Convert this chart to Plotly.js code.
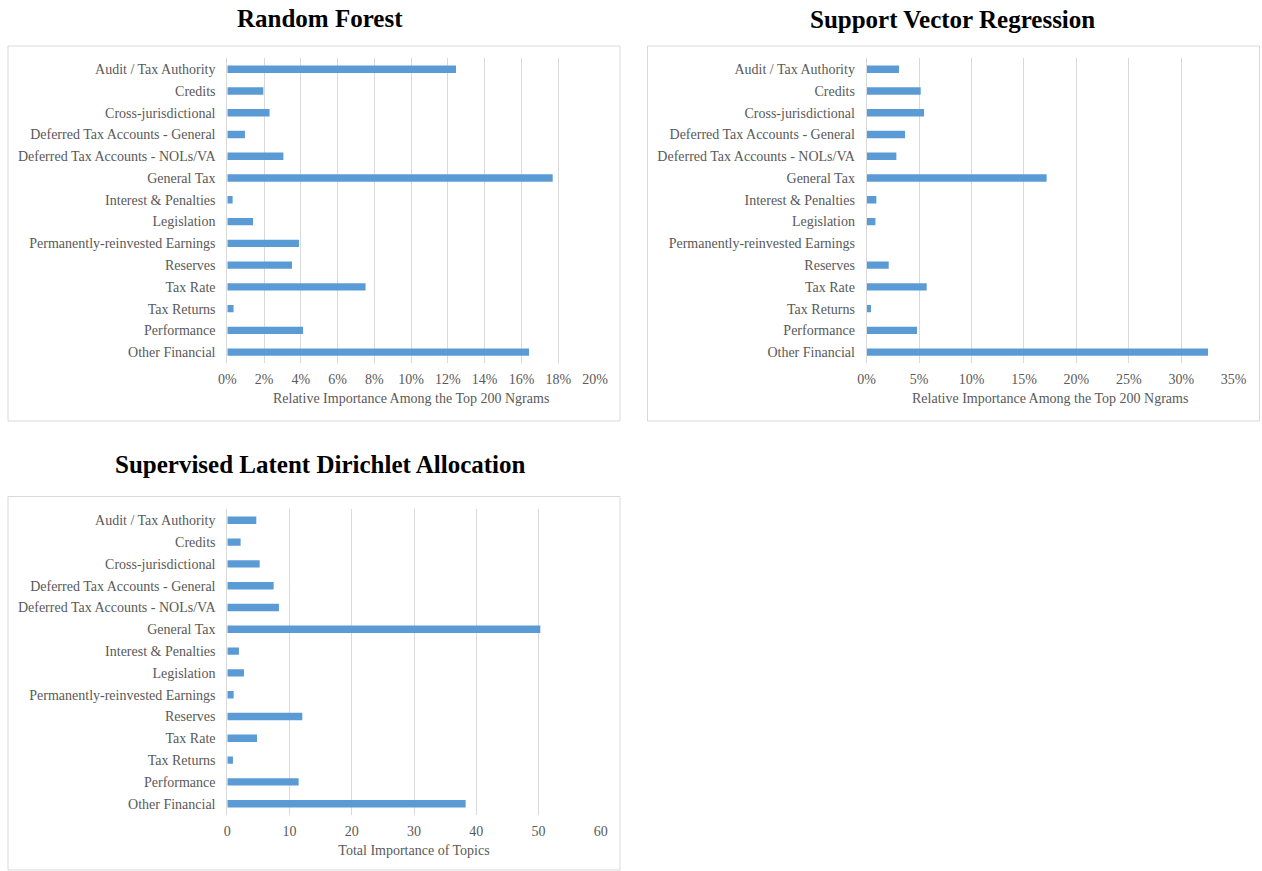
<!DOCTYPE html>
<html>
<head>
<meta charset="utf-8">
<script src="https://cdn.plot.ly/plotly-3.0.1.min.js"></script>
<style>html,body{margin:0;padding:0;background:#fff;}#chart{width:1262px;height:871px;}</style>
</head>
<body>
<div id="chart"></div>
<script>
const categories = ["Audit / Tax Authority","Credits","Cross-jurisdictional","Deferred Tax Accounts - General","Deferred Tax Accounts - NOLs/VA","General Tax","Interest & Penalties","Legislation","Permanently-reinvested Earnings","Reserves","Tax Rate","Tax Returns","Performance","Other Financial"];
const rfValues = [0.1244,0.0196,0.0230,0.0096,0.0305,0.1770,0.0029,0.0140,0.0390,0.0352,0.0752,0.0034,0.0412,0.1641];
const svrValues = [0.0308,0.0515,0.0547,0.0366,0.0283,0.1716,0.0092,0.0083,0.0,0.0210,0.0572,0.0041,0.0480,0.3255];
const sldaValues = [4.66,2.14,5.20,7.45,8.30,50.3,1.87,2.68,1.02,12.05,4.77,0.91,11.46,38.3];
const titles = ["Random Forest","Support Vector Regression","Supervised Latent Dirichlet Allocation"];
const xTitles = ["Relative Importance Among the Top 200 Ngrams","Relative Importance Among the Top 200 Ngrams","Total Importance of Topics"];

const W = 1262, H = 871;
const px = v => v / W;
const py = v => 1 - v / H;
const FONT = "Liberation Serif, Times New Roman, serif";
const BAR = "#5b9bd5";
const GRID = "#d9d9d9";
const TXT = "#595959";

function bar(vals, xa, ya) {
  return {type:"bar", orientation:"h", x: vals, y: categories, xaxis: xa, yaxis: ya,
    marker:{color:BAR}, hoverinfo:"x+y", showlegend:false};
}
const data = [bar(rfValues,"x","y"), bar(svrValues,"x2","y2"), bar(sldaValues,"x3","y3")];

function xax(domain, range, dtick, fmt, title, anchor) {
  return {domain: domain, range: range, dtick: dtick, tick0: 0, tickformat: fmt, anchor: anchor,
    showgrid:true, gridcolor:GRID, gridwidth:1, zeroline:false, showline:false, ticks:"",
    tickfont:{family:FONT,size:14,color:TXT}, ticklabelstandoff:6, fixedrange:true,
    title:{text:title, font:{family:FONT,size:14,color:TXT}, standoff:7}};
}
function yax(domain, anchor) {
  return {domain: domain, type:"category", autorange:"reversed", anchor: anchor,
    showgrid:false, zeroline:false, showline:true, linecolor:GRID, linewidth:1, ticks:"",
    tickfont:{family:FONT,size:14,color:TXT}, ticklabelstandoff:8, fixedrange:true};
}

const layout = {
  width: W, height: H,
  margin:{l:0,r:0,t:0,b:0},
  paper_bgcolor:"#fff", plot_bgcolor:"rgba(0,0,0,0)",
  bargap: 0.66,
  font:{family:FONT},
  xaxis: xax([px(227.3), px(595)], [0,0.20], 0.02, ".0%", xTitles[0], "y"),
  yaxis: yax([py(363), py(58.4)], "x"),
  xaxis2: xax([px(866.7), px(1233.7)], [0,0.35], 0.05, ".0%", xTitles[1], "y2"),
  yaxis2: yax([py(363), py(58.4)], "x2"),
  xaxis3: xax([px(227.3), px(600.7)], [0,60], 10, "d", xTitles[2], "y3"),
  yaxis3: yax([py(814.6), py(509.4)], "x3"),
  shapes: [
    {type:"rect", xref:"paper", yref:"paper", x0:px(8), x1:px(620), y0:py(421), y1:py(46), line:{color:GRID,width:1}, fillcolor:"rgba(0,0,0,0)", layer:"below"},
    {type:"rect", xref:"paper", yref:"paper", x0:px(647.5), x1:px(1259.5), y0:py(421), y1:py(46), line:{color:GRID,width:1}, fillcolor:"rgba(0,0,0,0)", layer:"below"},
    {type:"rect", xref:"paper", yref:"paper", x0:px(8), x1:px(620), y0:py(870), y1:py(496.5), line:{color:GRID,width:1}, fillcolor:"rgba(0,0,0,0)", layer:"below"}
  ],
  annotations: [
    {text:titles[0], xref:"paper", yref:"paper", x:px(320), y:py(18), showarrow:false, xanchor:"center", yanchor:"middle", font:{family:FONT,size:25,color:"#000",weight:"bold"}},
    {text:titles[1], xref:"paper", yref:"paper", x:px(952), y:py(19), showarrow:false, xanchor:"center", yanchor:"middle", font:{family:FONT,size:25,color:"#000",weight:"bold"}},
    {text:titles[2], xref:"paper", yref:"paper", x:px(320), y:py(465), showarrow:false, xanchor:"center", yanchor:"middle", font:{family:FONT,size:25,color:"#000",weight:"bold"}}
  ]
};

Plotly.newPlot("chart", data, layout, {displayModeBar:false, staticPlot:false});
</script>
</body>
</html>
